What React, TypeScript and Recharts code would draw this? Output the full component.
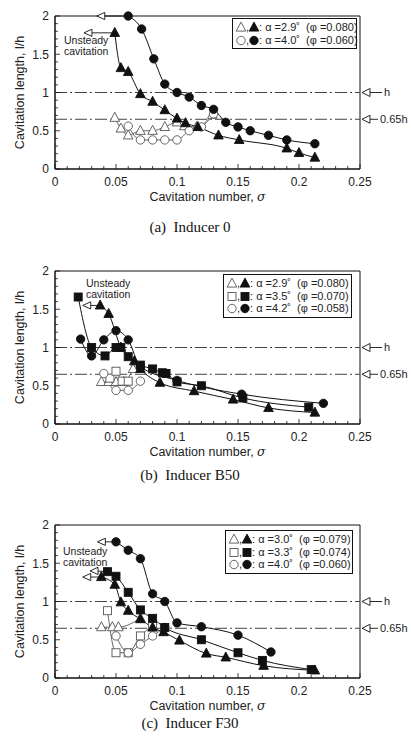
import React from 'react';
import { ComposedChart, Line, XAxis, YAxis, ReferenceLine, ReferenceArea } from 'recharts';

type Pt = [number, number];
type Shape = 'tri' | 'sq' | 'circ';

// (a) Inducer 0  — [sigma, l/h]
const aTriOpen: Pt[] = [[0.049, 0.67], [0.054, 0.53], [0.06, 0.44], [0.07, 0.5], [0.08, 0.5], [0.09, 0.55], [0.1, 0.61], [0.106, 0.56], [0.116, 0.55], [0.129, 0.71]];
const aCircOpen: Pt[] = [[0.06, 0.56], [0.07, 0.38], [0.08, 0.38], [0.09, 0.38], [0.1, 0.38], [0.11, 0.5], [0.12, 0.55], [0.13, 0.72]];
const aTriFilled: Pt[] = [[0.049, 1.78], [0.054, 1.32], [0.06, 1.27], [0.07, 0.98], [0.08, 0.88], [0.09, 0.77], [0.1, 0.66], [0.107, 0.6], [0.117, 0.55], [0.134, 0.44], [0.151, 0.38], [0.19, 0.27], [0.2, 0.21], [0.213, 0.15]];
const aCircFilled: Pt[] = [[0.06, 2.0], [0.071, 1.83], [0.081, 1.44], [0.09, 1.11], [0.1, 1.0], [0.11, 0.94], [0.12, 0.83], [0.13, 0.78], [0.14, 0.61], [0.15, 0.55], [0.16, 0.5], [0.175, 0.44], [0.19, 0.38], [0.213, 0.33]];
const aArrowTri: Pt[] = [[0.027, 1.78], [0.049, 1.78]];
const aArrowCirc: Pt[] = [[0.0375, 2.0], [0.06, 2.0]];

// (b) Inducer B50
const bTriOpen: Pt[] = [[0.038, 0.55], [0.044, 0.55], [0.05, 0.55], [0.056, 0.55], [0.064, 0.72]];
const bSqOpen: Pt[] = [[0.045, 0.6], [0.05, 0.69], [0.055, 0.56], [0.06, 0.56]];
const bCircOpen: Pt[] = [[0.04, 0.66], [0.05, 0.44], [0.06, 0.44], [0.07, 0.56]];
const bTriFilled: Pt[] = [[0.037, 1.55], [0.044, 1.44], [0.054, 1.0], [0.065, 0.82], [0.07, 0.72], [0.086, 0.54], [0.114, 0.43], [0.146, 0.32], [0.175, 0.21], [0.213, 0.15]];
const bSqFilled: Pt[] = [[0.019, 1.66], [0.03, 1.0], [0.041, 0.89], [0.05, 1.0], [0.054, 1.0], [0.06, 0.88], [0.07, 0.77], [0.08, 0.72], [0.088, 0.67], [0.091, 0.66], [0.1, 0.55], [0.12, 0.5], [0.154, 0.34], [0.208, 0.22]];
const bCircFilled: Pt[] = [[0.021, 1.11], [0.03, 0.89], [0.04, 1.1], [0.05, 1.22], [0.06, 1.1], [0.07, 0.75], [0.1, 0.57], [0.153, 0.39], [0.22, 0.27]];
const bArrowTri: Pt[] = [[0.026, 1.55], [0.037, 1.55]];

// (c) Inducer F30
const cTriOpen: Pt[] = [[0.038, 0.665], [0.047, 0.665], [0.052, 0.665], [0.07, 0.78]];
const cSqOpen: Pt[] = [[0.043, 0.88], [0.05, 0.33], [0.06, 0.33], [0.07, 0.55], [0.08, 0.68]];
const cCircOpen: Pt[] = [[0.05, 0.55], [0.06, 0.33], [0.07, 0.44], [0.08, 0.55], [0.09, 0.66]];
const cTriFilled: Pt[] = [[0.038, 1.32], [0.049, 1.22], [0.054, 0.99], [0.06, 0.88], [0.07, 0.77], [0.08, 0.66], [0.089, 0.6], [0.102, 0.49], [0.124, 0.32], [0.14, 0.27], [0.171, 0.16], [0.213, 0.1]];
const cSqFilled: Pt[] = [[0.043, 1.39], [0.05, 1.33], [0.06, 1.12], [0.07, 0.89], [0.08, 0.78], [0.09, 0.66], [0.12, 0.5], [0.15, 0.33], [0.17, 0.23], [0.21, 0.11]];
const cCircFilled: Pt[] = [[0.05, 1.78], [0.06, 1.67], [0.07, 1.56], [0.08, 1.1], [0.09, 1.0], [0.1, 0.72], [0.12, 0.67], [0.15, 0.56], [0.177, 0.34]];
const cArrowTri: Pt[] = [[0.026, 1.32], [0.038, 1.32]];
const cArrowSq: Pt[] = [[0.032, 1.4], [0.043, 1.39]];
const cArrowCirc: Pt[] = [[0.038, 1.78], [0.05, 1.78]];

const xTicks = [0, 0.01, 0.02, 0.03, 0.04, 0.05, 0.06, 0.07, 0.08, 0.09, 0.1, 0.11, 0.12, 0.13, 0.14, 0.15, 0.16, 0.17, 0.18, 0.19, 0.2, 0.21, 0.22, 0.23, 0.24, 0.25];
const yTicks = [0, 0.1, 0.2, 0.3, 0.4, 0.5, 0.6, 0.7, 0.8, 0.9, 1, 1.1, 1.2, 1.3, 1.4, 1.5, 1.6, 1.7, 1.8, 1.9, 2];
const refLevels = [1, 0.65];
const refNames = ['h', '0.65h'];

const INK = '#111';
const OPEN = '#555';
const SANS = '"Liberation Sans", Arial, sans-serif';
const SERIF = '"Liberation Serif", "Times New Roman", serif';

const rows = (pts: Pt[]) => pts.map(([s, l]) => ({ s, l }));
const isMajor = (v: number, step: number) => Math.abs(v / step - Math.round(v / step)) < 1e-6;

function Marker({ cx, cy, shape, filled }: { cx: number; cy: number; shape: Shape; filled: boolean }) {
  const fill = filled ? INK : '#fff';
  const stroke = filled ? INK : OPEN;
  if (shape === 'tri') {
    const r = 4.8;
    return <polygon points={`${cx},${cy - r - 0.6} ${cx - r},${cy + r * 0.75} ${cx + r},${cy + r * 0.75}`} fill={fill} stroke={stroke} strokeWidth={0.9} />;
  }
  if (shape === 'sq') return <rect x={cx - 4} y={cy - 4} width={8} height={8} fill={fill} stroke={stroke} strokeWidth={0.9} />;
  return <circle cx={cx} cy={cy} r={4.2} fill={fill} stroke={stroke} strokeWidth={0.9} />;
}

const ArrowHead = (p: any) =>
  p.index === 0 ? (
    <polygon key={`ah-${p.index}`} points={`${p.cx - 4},${p.cy} ${p.cx + 4},${p.cy - 3.6} ${p.cx + 4},${p.cy + 3.6}`} fill="#fff" stroke={INK} strokeWidth={0.9} />
  ) : (
    <g key={`ah-${p.index}`} />
  );

const XTick = (p: any) => {
  const v = p.payload.value;
  const major = isMajor(v, 0.05);
  return (
    <g>
      <line x1={p.x} y1={p.y} x2={p.x} y2={p.y - (major ? 5 : 3)} stroke={INK} strokeWidth={0.8} />
      {major && (
        <text x={p.x} y={p.y + 17} textAnchor="middle" fontSize={12} fill="#222" fontFamily={SANS}>
          {String(+v.toFixed(2))}
        </text>
      )}
    </g>
  );
};

const YTick = (p: any) => {
  const v = p.payload.value;
  const major = isMajor(v, 0.5);
  return (
    <g>
      <line x1={p.x} y1={p.y} x2={p.x + (major ? 5 : 3)} y2={p.y} stroke={INK} strokeWidth={0.8} />
      {major && (
        <text x={p.x - 6} y={p.y} dy="0.36em" textAnchor="end" fontSize={12} fill="#222" fontFamily={SANS}>
          {String(+v.toFixed(1))}
        </text>
      )}
    </g>
  );
};

const XTitle = (p: any) => {
  const { x, y, width } = p.viewBox;
  return (
    <text x={x + width / 2} y={y + 32} textAnchor="middle" fontSize={12.5} fill="#222" fontFamily={SANS}>
      Cavitation number, <tspan fontStyle="italic" fontFamily='"DejaVu Serif", serif'>σ</tspan>
    </text>
  );
};

const YTitle = (p: any) => {
  const { y, height } = p.viewBox;
  const yc = y + height / 2;
  return (
    <text x={20} y={yc} transform={`rotate(-90, 20, ${yc})`} textAnchor="middle" dy="0.35em" fontSize={12.5} fill="#222" fontFamily={SANS}>
      Cavitation length, l/h
    </text>
  );
};

const RightMark = (p: any) => {
  const { x, y, width } = p.viewBox;
  const x0 = x + width;
  const len = p.text === 'h' ? 22 : 18;
  return (
    <g>
      <line x1={x0 + 6} y1={y} x2={x0 + len} y2={y} stroke={INK} strokeWidth={0.9} />
      <polygon points={`${x0 + 2},${y} ${x0 + 10},${y - 4} ${x0 + 10},${y + 4}`} fill="#fff" stroke={INK} strokeWidth={0.9} />
      <text x={x0 + len + 2} y={y} dy="0.36em" fontSize={11} fill="#222" fontFamily={SANS}>
        {p.text}
      </text>
    </g>
  );
};

type Series = { pts: Pt[]; shape: Shape; filled: boolean };
type LegendRow = { shape: Shape; alpha: string; phi: string };

function Panel(props: {
  top: number;
  series: Series[];
  arrows: Pt[][];
  legend: LegendRow[];
  legendPos: { left: number; top: number; width: number };
  unsteadyPos: { left: number; top: number };
}) {
  const { top, series, arrows, legend, legendPos, unsteadyPos } = props;
  return (
    <div style={{ position: 'absolute', left: 0, top, width: 411, height: 235 }}>
      <ComposedChart width={411} height={235} margin={{ top: 16, right: 51, bottom: 0, left: 0 }}>
        <XAxis
          dataKey="s"
          type="number"
          domain={[0, 0.25]}
          ticks={xTicks}
          interval={0}
          height={66}
          tickSize={0}
          tickMargin={0}
          tickLine={false}
          tick={(p: any) => <XTick {...p} />}
          axisLine={{ stroke: INK }}
          label={<XTitle />}
        />
        <YAxis
          dataKey="l"
          type="number"
          domain={[0, 2]}
          ticks={yTicks}
          interval={0}
          width={55}
          tickSize={0}
          tickMargin={0}
          tickLine={false}
          tick={(p: any) => <YTick {...p} />}
          axisLine={{ stroke: INK }}
          label={<YTitle />}
        />
        <ReferenceArea x1={0} x2={0.25} y1={0} y2={2} fill="none" stroke={INK} strokeWidth={1} ifOverflow="visible" />
        {refLevels.map((lv, i) => (
          <ReferenceLine key={lv} y={lv} stroke="#444" strokeWidth={1} strokeDasharray="12 3 2 3" label={<RightMark text={refNames[i]} />} />
        ))}
        {arrows.map((a, i) => (
          <Line key={`ar${i}`} data={rows(a)} dataKey="l" type="linear" stroke={INK} strokeWidth={0.9} dot={ArrowHead} activeDot={false} isAnimationActive={false} />
        ))}
        {series.map((sr, i) => (
          <Line
            key={`s${i}`}
            data={rows(sr.pts)}
            dataKey="l"
            type="monotone"
            stroke={sr.filled ? INK : OPEN}
            strokeWidth={sr.filled ? 1 : 0.9}
            dot={(p: any) => <Marker key={`m${i}-${p.index}`} cx={p.cx} cy={p.cy} shape={sr.shape} filled={sr.filled} />}
            activeDot={false}
            isAnimationActive={false}
          />
        ))}
      </ComposedChart>
      <div
        style={{
          position: 'absolute',
          left: legendPos.left,
          top: legendPos.top,
          width: legendPos.width,
          border: `1px solid ${INK}`,
          background: '#fff',
          padding: '2px 0 2px 3px',
          fontFamily: SANS,
          fontSize: 11,
          color: '#222',
          boxSizing: 'border-box',
        }}
      >
        {legend.map((r) => (
          <div key={r.alpha} style={{ display: 'flex', alignItems: 'center', height: 12.5, whiteSpace: 'pre' }}>
            <svg width={10} height={10} style={{ overflow: 'visible' }}>
              <Marker cx={5} cy={5.5} shape={r.shape} filled={false} />
            </svg>
            <span>,</span>
            <svg width={10} height={10} style={{ overflow: 'visible' }}>
              <Marker cx={5} cy={5.5} shape={r.shape} filled />
            </svg>
            <span>{`: α =${r.alpha}˚  (φ =${r.phi})`}</span>
          </div>
        ))}
      </div>
      <div
        style={{
          position: 'absolute',
          left: unsteadyPos.left,
          top: unsteadyPos.top,
          fontFamily: SANS,
          fontSize: 10.5,
          lineHeight: '11px',
          color: '#222',
        }}
      >
        Unsteady
        <br />
        cavitation
      </div>
    </div>
  );
}

const captions = ['(a)  Inducer 0', '(b)  Inducer B50', '(c)  Inducer F30'];
const captionTops = [219, 467, 715];

export default function App() {
  return (
    <div style={{ position: 'absolute', left: 0, top: 0, width: 411, height: 745, background: '#fff' }}>
      <Panel
        top={0}
        series={[
          { pts: aTriOpen, shape: 'tri', filled: false },
          { pts: aCircOpen, shape: 'circ', filled: false },
          { pts: aTriFilled, shape: 'tri', filled: true },
          { pts: aCircFilled, shape: 'circ', filled: true },
        ]}
        arrows={[aArrowTri, aArrowCirc]}
        legend={[
          { shape: 'tri', alpha: '2.9', phi: '0.080' },
          { shape: 'circ', alpha: '4.0', phi: '0.060' },
        ]}
        legendPos={{ left: 232, top: 18, width: 125 }}
        unsteadyPos={{ left: 64, top: 35 }}
      />
      <Panel
        top={255}
        series={[
          { pts: bTriOpen, shape: 'tri', filled: false },
          { pts: bSqOpen, shape: 'sq', filled: false },
          { pts: bCircOpen, shape: 'circ', filled: false },
          { pts: bTriFilled, shape: 'tri', filled: true },
          { pts: bSqFilled, shape: 'sq', filled: true },
          { pts: bCircFilled, shape: 'circ', filled: true },
        ]}
        arrows={[bArrowTri]}
        legend={[
          { shape: 'tri', alpha: '2.9', phi: '0.080' },
          { shape: 'sq', alpha: '3.5', phi: '0.070' },
          { shape: 'circ', alpha: '4.2', phi: '0.058' },
        ]}
        legendPos={{ left: 223, top: 19, width: 129 }}
        unsteadyPos={{ left: 86, top: 23 }}
      />
      <Panel
        top={509}
        series={[
          { pts: cTriOpen, shape: 'tri', filled: false },
          { pts: cSqOpen, shape: 'sq', filled: false },
          { pts: cCircOpen, shape: 'circ', filled: false },
          { pts: cTriFilled, shape: 'tri', filled: true },
          { pts: cSqFilled, shape: 'sq', filled: true },
          { pts: cCircFilled, shape: 'circ', filled: true },
        ]}
        arrows={[cArrowTri, cArrowSq, cArrowCirc]}
        legend={[
          { shape: 'tri', alpha: '3.0', phi: '0.079' },
          { shape: 'sq', alpha: '3.3', phi: '0.074' },
          { shape: 'circ', alpha: '4.0', phi: '0.060' },
        ]}
        legendPos={{ left: 225, top: 21, width: 128 }}
        unsteadyPos={{ left: 63, top: 37 }}
      />
      {captions.map((c, i) => (
        <div
          key={c}
          style={{
            position: 'absolute',
            left: 0,
            width: 380,
            top: captionTops[i],
            textAlign: 'center',
            fontFamily: SERIF,
            fontSize: 15,
            whiteSpace: 'pre',
            color: '#111',
          }}
        >
          {c}
        </div>
      ))}
    </div>
  );
}
